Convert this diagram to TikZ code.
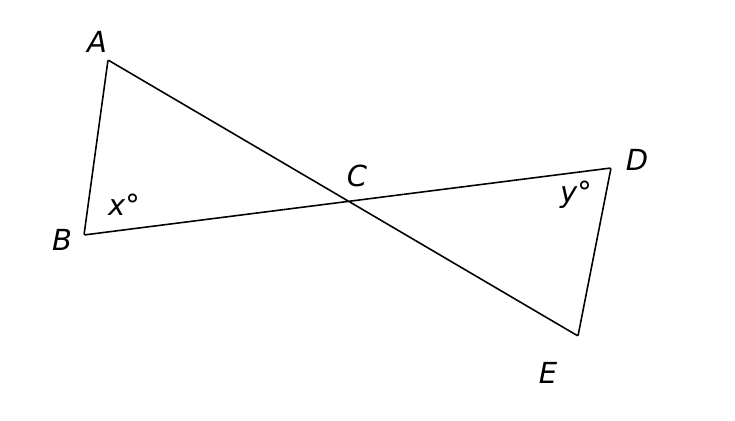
\documentclass[tikz,border=0pt]{standalone}
\usepackage{fontspec}
\setmainfont{DejaVu Sans}
\usetikzlibrary{positioning}
\begin{document}
\begin{tikzpicture}[x=0.02cm, y=-0.02cm,
                    lbl/.style={font=\fontsize{16.5}{18}\selectfont\itshape, inner sep=0pt},
                    pt/.style={inner sep=0pt, minimum size=0pt}]
                    \useasboundingbox (0,0) rectangle (735,421);
                    \node[pt] (A) at (108,60) {};
                    \node[pt] (B) at (84,235) {};
                    \node[pt] (C) at (348.7,201.3) {};
                    \node[pt] (D) at (611,168) {};
                    \node[pt] (E) at (578,336) {};

                    \node[lbl] (lA) at (97,42) {A};
                    \node[lbl] (lB) at (62,240) {B};
                    \node[lbl] (lC) at (357,176) {C};
                    \node[lbl] (lD) at (637,160) {D};
                    \node[lbl] (lE) at (548,373) {E};
                    \node[lbl] (lx) at (124,205) {x°};
                    \node[lbl] (ly) at (576,195) {y°};

                    \draw[line width=0.9pt, line join=round] (E) -- (A) -- (B) -- (D) -- (E);
                \end{tikzpicture}
\end{document}
